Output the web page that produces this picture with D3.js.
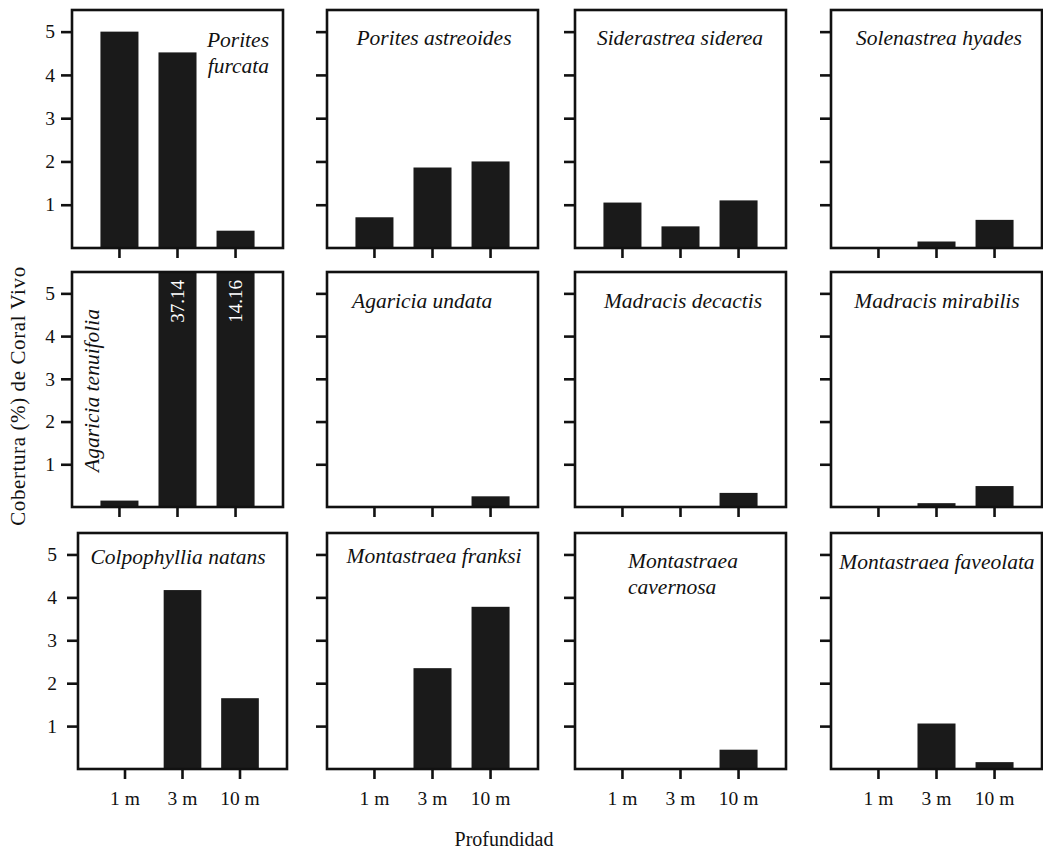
<!DOCTYPE html>
<html>
<head>
<meta charset="utf-8">
<script src="https://cdn.jsdelivr.net/npm/d3@7"></script>
<style>
  html, body { margin: 0; padding: 0; background: #fff; }
  svg { display: block; }
  text { font-family: "Liberation Serif", "Times New Roman", serif; fill: #111; }
</style>
</head>
<body>
<svg id="chart" width="1043" height="851"></svg>
<script>
// ---------------- DATA ----------------
const depths = ["1 m", "3 m", "10 m"];
const yTicks = [1, 2, 3, 4, 5];
const yMax = 5.5;

const speciesNames = [
  "Porites furcata", "Porites astreoides", "Siderastrea siderea", "Solenastrea hyades",
  "Agaricia tenuifolia", "Agaricia undata", "Madracis decactis", "Madracis mirabilis",
  "Colpophyllia natans", "Montastraea franksi", "Montastraea cavernosa", "Montastraea faveolata"
];

const poritesFurcata       = [5.00, 4.52, 0.40];
const poritesAstreoides    = [0.71, 1.86, 2.00];
const siderastreaSiderea   = [1.05, 0.50, 1.10];
const solenastreaHyades    = [0.00, 0.15, 0.65];
const agariciaTenuifolia   = [0.15, 37.14, 14.16];
const agariciaUndata       = [0.00, 0.00, 0.25];
const madracisDecactis     = [0.00, 0.00, 0.33];
const madracisMirabilis    = [0.00, 0.09, 0.49];
const colpophylliaNatans   = [0.00, 4.17, 1.65];
const montastraeaFranksi   = [0.00, 2.35, 3.78];
const montastraeaCavernosa = [0.00, 0.00, 0.45];
const montastraeaFaveolata = [0.00, 1.06, 0.16];

const seriesValues = [
  poritesFurcata, poritesAstreoides, siderastreaSiderea, solenastreaHyades,
  agariciaTenuifolia, agariciaUndata, madracisDecactis, madracisMirabilis,
  colpophylliaNatans, montastraeaFranksi, montastraeaCavernosa, montastraeaFaveolata
];

const yTitle = "Cobertura (%) de Coral Vivo";
const xTitle = "Profundidad";

// ---------------- LAYOUT ----------------
const svg = d3.select("#chart");
const colLeft = [72, 327, 575, 831];
const rowTop = [10, 272, 533];
const rowH = [238, 235, 236];
const panelW = 211;
const FONT = '"Liberation Serif", "Times New Roman", serif';

// species label placement: lines, anchor, dx (relative to panel), baseline offset
const labelLayout = [
  {lines: ["Porites", "furcata"], anchor: "end", dx: 197, dy: 37},
  {lines: ["Porites astreoides"], anchor: "middle", dx: 107, dy: 35},
  {lines: ["Siderastrea siderea"], anchor: "middle", dx: 105, dy: 35},
  {lines: ["Solenastrea hyades"], anchor: "middle", dx: 108, dy: 35},
  {lines: ["Agaricia tenuifolia"], anchor: "rotate", dx: 27, dy: 200},
  {lines: ["Agaricia undata"], anchor: "start", dx: 25, dy: 36},
  {lines: ["Madracis decactis"], anchor: "middle", dx: 108, dy: 36},
  {lines: ["Madracis mirabilis"], anchor: "middle", dx: 106, dy: 36},
  {lines: ["Colpophyllia natans"], anchor: "middle", dx: 100, dy: 31},
  {lines: ["Montastraea franksi"], anchor: "middle", dx: 107, dy: 30},
  {lines: ["Montastraea", "cavernosa"], anchor: "start", dx: 53, dy: 35},
  {lines: ["Montastraea faveolata"], anchor: "middle", dx: 106, dy: 36}
];

speciesNames.forEach((name, i) => {
  const r = Math.floor(i / 4), c = i % 4;
  let left = colLeft[c], w = panelW;
  let tickPad = 6;
  if (r === 2 && c === 0) { left = 78; w = 209; tickPad = 10; }
  const top = rowTop[r], h = rowH[r];
  const vals = seriesValues[i];

  const x = d3.scaleBand().domain(depths).range([0, w]).paddingInner(0.345).paddingOuter(0.49);
  const y = d3.scaleLinear().domain([0, yMax]).range([h, 0]).clamp(true);

  const g = svg.append("g").attr("transform", `translate(${left},${top})`);

  // bars
  g.selectAll("rect.bar").data(depths.map((d, k) => ({d, v: vals[k]})))
    .enter().append("rect").attr("class", "bar")
    .attr("x", d => x(d.d))
    .attr("width", x.bandwidth())
    .attr("y", d => y(d.v))
    .attr("height", d => h - y(d.v))
    .attr("fill", "#1a1a1a");

  // off-scale values written inside bars
  depths.forEach((d, k) => {
    if (vals[k] > yMax) {
      g.append("text")
        .attr("transform", `translate(${x(d) + x.bandwidth() / 2 + 6},8) rotate(-90)`)
        .attr("text-anchor", "end")
        .style("fill", "#fff")
        .style("font-size", "19px")
        .text(vals[k].toFixed(2));
    }
  });

  // y axis
  const ya = d3.axisLeft(y).tickValues(yTicks).tickSize(11).tickPadding(tickPad)
    .tickFormat(c === 0 ? d3.format("d") : () => "");
  const yg = g.append("g").call(ya);
  yg.select(".domain").remove();
  yg.selectAll("line").attr("stroke", "#111").attr("stroke-width", 2.6);
  yg.selectAll("text").style("font-size", "19.5px").style("font-family", FONT).attr("fill", "#111");

  // x axis
  const xa = d3.axisBottom(x).tickSize(10).tickPadding(12)
    .tickFormat(r === 2 ? (d => d) : () => "");
  const xg = g.append("g").attr("transform", `translate(0,${h})`).call(xa);
  xg.select(".domain").remove();
  xg.selectAll("line").attr("stroke", "#111").attr("stroke-width", 2.6);
  xg.selectAll("text").style("font-size", "19.5px").style("font-family", FONT).attr("fill", "#111");

  // frame
  g.append("rect").attr("x", 0).attr("y", 0).attr("width", w).attr("height", h)
    .attr("fill", "none").attr("stroke", "#111").attr("stroke-width", 2.6);

  // species label
  const L = labelLayout[i];
  if (L.anchor === "rotate") {
    g.append("text")
      .attr("transform", `translate(${L.dx},${L.dy}) rotate(-90)`)
      .attr("text-anchor", "start")
      .style("font-style", "italic").style("font-size", "21.5px")
      .text(L.lines[0]);
  } else {
    const t = g.append("text").attr("text-anchor", L.anchor)
      .style("font-style", "italic").style("font-size", "21.5px");
    L.lines.forEach((ln, j) => {
      t.append("tspan").attr("x", L.dx).attr("y", L.dy + j * 26).text(ln);
    });
  }
});

// axis titles
svg.append("text")
  .attr("transform", "translate(25,396) rotate(-90)")
  .attr("text-anchor", "middle")
  .style("font-size", "21px")
  .style("letter-spacing", "0.6px")
  .text(yTitle);

svg.append("text")
  .attr("x", 504).attr("y", 846)
  .attr("text-anchor", "middle")
  .style("font-size", "20px")
  .text(xTitle);
</script>
</body>
</html>
